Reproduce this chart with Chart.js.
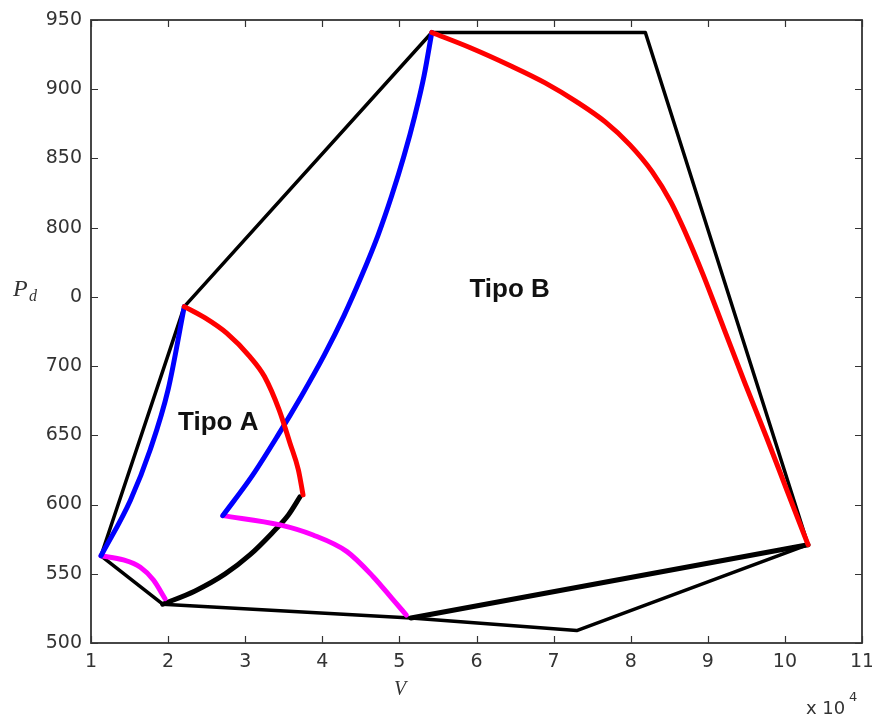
<!DOCTYPE html>
<html>
<head>
<meta charset="utf-8">
<script src="https://cdn.jsdelivr.net/npm/chart.js@4.4.1/dist/chart.umd.min.js"></script>
<style>
  html, body { margin: 0; padding: 0; background: #fff; }
  #wrap { width: 872px; height: 718px; position: relative; }
</style>
</head>
<body>
<div id="wrap"><canvas id="chart"></canvas></div>
<script>
// ticks
const xTicks = [1, 2, 3, 4, 5, 6, 7, 8, 9, 10, 11];
const yTicks = [500, 550, 600, 650, 700, 750, 800, 850, 900, 950];
const yTickLabels = ['500', '550', '600', '650', '700', '0', '800', '850', '900', '950'];

// contorno exterior (negro)
const hullX = [1.13, 2.21, 5.42, 8.19, 10.30, 7.30, 5.15, 1.93, 1.13];
const hullY = [563, 743, 941, 941, 571, 509, 518, 528, 563];

// tramo grueso inferior hasta el vértice derecho
const baseX = [5.15, 10.30];
const baseY = [518, 571];

// curva negra desde el vértice inferior
const curveX = [1.93, 2.35, 2.74, 3.06, 3.35, 3.56, 3.71];
const curveY = [528, 537.6, 549.9, 563.6, 579.5, 592.5, 605.5];

// curvas azules
const blueAX = [1.13, 1.51, 1.77, 2.00, 2.21];
const blueAY = [563, 603, 640, 683, 743];
const blueBX = [2.71, 3.09, 3.42, 3.73, 4.02, 4.28, 4.51, 4.72, 4.90, 5.06, 5.20, 5.32, 5.42];
const blueBY = [592, 620.7, 649.6, 678.5, 707.4, 736.3, 765.2, 794.1, 823.0, 851.9, 880.8, 909.7, 941];

// curvas rojas
const redAX = [2.21, 2.48, 2.76, 3.06, 3.25, 3.44, 3.58, 3.69, 3.75];
const redAY = [743, 734.8, 723.8, 706.9, 692.5, 668.4, 644.5, 625.0, 607];
const redBX = [5.42, 5.92, 6.44, 6.89, 7.30, 7.67, 7.99, 8.28, 8.52, 8.74, 8.94, 9.21, 9.48, 9.76, 10.03, 10.30];
const redBY = [941, 930, 917, 904.6, 890.9, 876.4, 859.8, 840.3, 818.6, 792.6, 765.9, 726.9, 687.9, 648.8, 609.8, 571];

// curvas magenta
const magAX = [1.13, 1.42, 1.64, 1.81, 1.96];
const magAY = [563, 560, 554.7, 545.5, 532];
const magBX = [2.71, 3.45, 3.88, 4.32, 4.66, 4.92, 5.09];
const magBY = [592, 585.3, 578.0, 566.0, 547.9, 531.1, 520.2];

function pts(xs, ys) {
  return xs.map((x, i) => ({ x: x, y: ys[i] }));
}

function line(xs, ys, color, width, smooth) {
  return {
    data: pts(xs, ys),
    showLine: true,
    borderColor: color,
    borderWidth: width,
    pointRadius: 0,
    fill: false,
    cubicInterpolationMode: smooth ? 'monotone' : 'default',
    tension: 0,
    borderCapStyle: 'round',
    borderJoinStyle: 'round'
  };
}

// marco con marcas hacia dentro y rótulos de texto
const frame = {
  id: 'frame',
  afterDraw(chart) {
    const { ctx, chartArea: a, scales } = chart;
    const xs = scales.x, ys = scales.y;
    ctx.save();
    ctx.strokeStyle = '#333';
    ctx.lineWidth = 1.8;
    ctx.strokeRect(a.left, a.top, a.right - a.left, a.bottom - a.top);
    ctx.lineWidth = 1.2;
    ctx.beginPath();
    xTicks.forEach(v => {
      const px = Math.round(xs.getPixelForValue(v)) + 0.5;
      ctx.moveTo(px, a.bottom); ctx.lineTo(px, a.bottom - 7);
      ctx.moveTo(px, a.top); ctx.lineTo(px, a.top + 7);
    });
    yTicks.forEach(v => {
      const py = Math.round(ys.getPixelForValue(v)) + 0.5;
      ctx.moveTo(a.left, py); ctx.lineTo(a.left + 7, py);
      ctx.moveTo(a.right, py); ctx.lineTo(a.right - 7, py);
    });
    ctx.stroke();

    ctx.fillStyle = '#111';
    ctx.textAlign = 'center';
    ctx.textBaseline = 'middle';
    ctx.font = 'bold 26px "Liberation Sans", Arial, sans-serif';
    ctx.fillText('Tipo A', xs.getPixelForValue(2.65), ys.getPixelForValue(659));
    ctx.fillText('Tipo B', xs.getPixelForValue(6.43), ys.getPixelForValue(755));

    // títulos de ejes
    ctx.fillStyle = '#333';
    ctx.font = 'italic 24px "Liberation Serif", "Times New Roman", serif';
    ctx.textAlign = 'left';
    ctx.fillText('P', 13, 290);
    ctx.font = 'italic 16px "Liberation Serif", "Times New Roman", serif';
    ctx.fillText('d', 29, 297);
    ctx.font = 'italic 20px "Liberation Serif", "Times New Roman", serif';
    ctx.textAlign = 'center';
    ctx.fillText('V', 400, 690);
    ctx.font = '18px "DejaVu Sans", sans-serif';
    ctx.textAlign = 'left';
    ctx.fillText('x 10', 806, 709);
    ctx.font = '13px "DejaVu Sans", sans-serif';
    ctx.fillText('4', 849, 698);
    ctx.restore();
  }
};

const tickFont = { family: '"DejaVu Sans", sans-serif', size: 19 };

new Chart(document.getElementById('chart'), {
  type: 'scatter',
  data: {
    datasets: [
      line(redBX, redBY, '#ff0000', 5, true),
      line(redAX, redAY, '#ff0000', 5, true),
      line(blueBX, blueBY, '#0000ff', 5, true),
      line(blueAX, blueAY, '#0000ff', 5, true),
      line(magAX, magAY, '#ff00ff', 5, true),
      line(magBX, magBY, '#ff00ff', 5, true),
      line(curveX, curveY, '#000000', 5, true),
      line(baseX, baseY, '#000000', 5, false),
      line(hullX, hullY, '#000000', 3.5, false)
    ]
  },
  options: {
    responsive: true,
    maintainAspectRatio: false,
    animation: false,
    layout: { padding: { left: 0, right: 10, top: 20, bottom: 0 } },
    plugins: {
      legend: { display: false },
      tooltip: { enabled: false }
    },
    scales: {
      x: {
        type: 'linear',
        min: 1, max: 11,
        afterBuildTicks: s => { s.ticks = xTicks.map(v => ({ value: v })); },
        afterFit: s => { s.height = 75; s.paddingLeft = 0; s.paddingRight = 0; },
        grid: { display: false, drawTicks: false },
        border: { display: false },
        ticks: { padding: 8, color: '#333', font: tickFont, maxRotation: 0 }
      },
      y: {
        type: 'linear',
        min: 500, max: 950,
        afterBuildTicks: s => { s.ticks = yTicks.map(v => ({ value: v })); },
        afterFit: s => { s.width = 91; s.paddingTop = 0; s.paddingBottom = 0; },
        grid: { display: false, drawTicks: false },
        border: { display: false },
        ticks: {
          padding: 9,
          color: '#333',
          font: tickFont,
          callback: (v, i) => yTickLabels[i]
        }
      }
    }
  },
  plugins: [frame]
});
</script>
</body>
</html>
